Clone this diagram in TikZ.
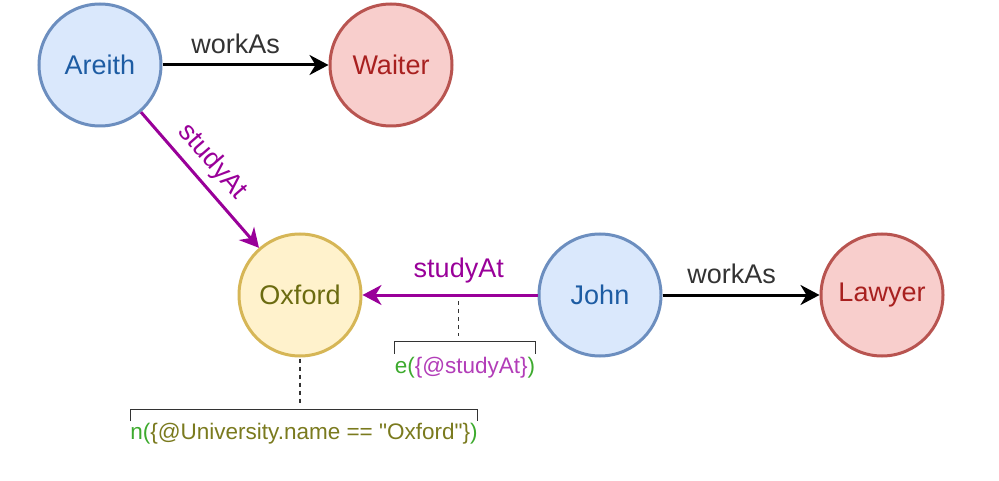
\documentclass[tikz,border=0pt]{standalone}
\usepackage{fontspec}
\setmainfont{Liberation Sans}
\newfontfamily\notefont{Liberation Sans}
\usetikzlibrary{arrows.meta}

\definecolor{personFill}{HTML}{DAE8FC}
\definecolor{personLine}{HTML}{6C8EBF}
\definecolor{personText}{HTML}{1D5CA3}
\definecolor{jobFill}{HTML}{F8CECC}
\definecolor{jobLine}{HTML}{B85450}
\definecolor{jobText}{HTML}{A8201F}
\definecolor{uniFill}{HTML}{FFF2CC}
\definecolor{uniLine}{HTML}{D6B656}
\definecolor{uniText}{HTML}{6B6B10}
\definecolor{relPurple}{HTML}{990099}
\definecolor{labelGray}{HTML}{333333}
\definecolor{noteGreen}{HTML}{3DAA2E}
\definecolor{notePurple}{HTML}{B23DB8}
\definecolor{noteOlive}{HTML}{7A7A1E}

\tikzset{
    entity/.style={circle, line width=3pt, minimum size=122pt, inner sep=0pt,
        font=\fontsize{27}{32}\selectfont},
    person/.style={entity, draw=personLine, fill=personFill, text=personText},
    job/.style={entity, draw=jobLine, fill=jobFill, text=jobText},
    uni/.style={entity, draw=uniLine, fill=uniFill, text=uniText},
    rel/.style={line width=3pt, -{Stealth[length=19pt, width=20pt, inset=6pt]}},
    lbl/.style={font=\fontsize{27}{32}\selectfont, inner sep=0pt, above=10pt},
    noteText/.style={font=\notefont\fontsize{22.5}{27}\selectfont, inner sep=0pt, anchor=base},
    bracket/.style={draw=labelGray, line width=1.2pt},
    dashLine/.style={draw=labelGray, line width=1.2pt, dash pattern=on 4pt off 4pt}
}

\begin{document}
\begin{tikzpicture}[x=1pt, y=-1pt]
    \useasboundingbox (0,0) rectangle (999,481);

    % entities
    \node[person] (areith) at (100,65) {Areith};
    \node[job] (waiter) at (391,65) {Waiter};
    \node[uni] (oxford) at (300,295) {Oxford};
    \node[person] (john) at (600,295) {John};
    \node[job] (lawyer) at (882,295) {Lawyer};

    % relations
    \draw[rel] (areith) -- node[lbl, pos=0.44, text=labelGray] {workAs} (waiter);
    \draw[rel, relPurple] (areith) -- node[lbl, sloped, pos=0.47, above=-3pt, text=relPurple] {studyAt} (oxford);
    \draw[rel, relPurple] (john) -- node[lbl, pos=0.45, text=relPurple] {studyAt}
        coordinate[pos=0.45] (studyMid) (oxford);
    \draw[rel] (john) -- node[lbl, pos=0.44, text=labelGray] {workAs} (lawyer);

    % annotations
    \node[noteText] (eNote) at (465,373)
        {\textcolor{noteGreen}{e(}\textcolor{notePurple}{\{@studyAt\}}\textcolor{noteGreen}{)}};
    \node[noteText] (nNote) at (304,439)
        {\textcolor{noteGreen}{n(}\textcolor{noteOlive}{\{@University.name == "Oxford"\}}\textcolor{noteGreen}{)}};

    \draw[bracket] ([yshift=2.5pt]eNote.north west) -- ([yshift=15pt]eNote.north west)
        -- ([yshift=15pt]eNote.north east) -- ([yshift=2.5pt]eNote.north east);
    \draw[bracket] ([yshift=1pt]nNote.north west) -- ([yshift=13pt]nNote.north west)
        -- ([yshift=13pt]nNote.north east) -- ([yshift=1pt]nNote.north east);

    \coordinate (eTop) at ([yshift=20pt]eNote.north);
    \coordinate (nTop) at ([yshift=18pt]nNote.north);
    \draw[dashLine] ([yshift=-6pt]studyMid) -- (studyMid |- eTop);
    \draw[dashLine] ([yshift=-1pt]oxford.south) -- (oxford.south |- nTop);
\end{tikzpicture}
\end{document}
